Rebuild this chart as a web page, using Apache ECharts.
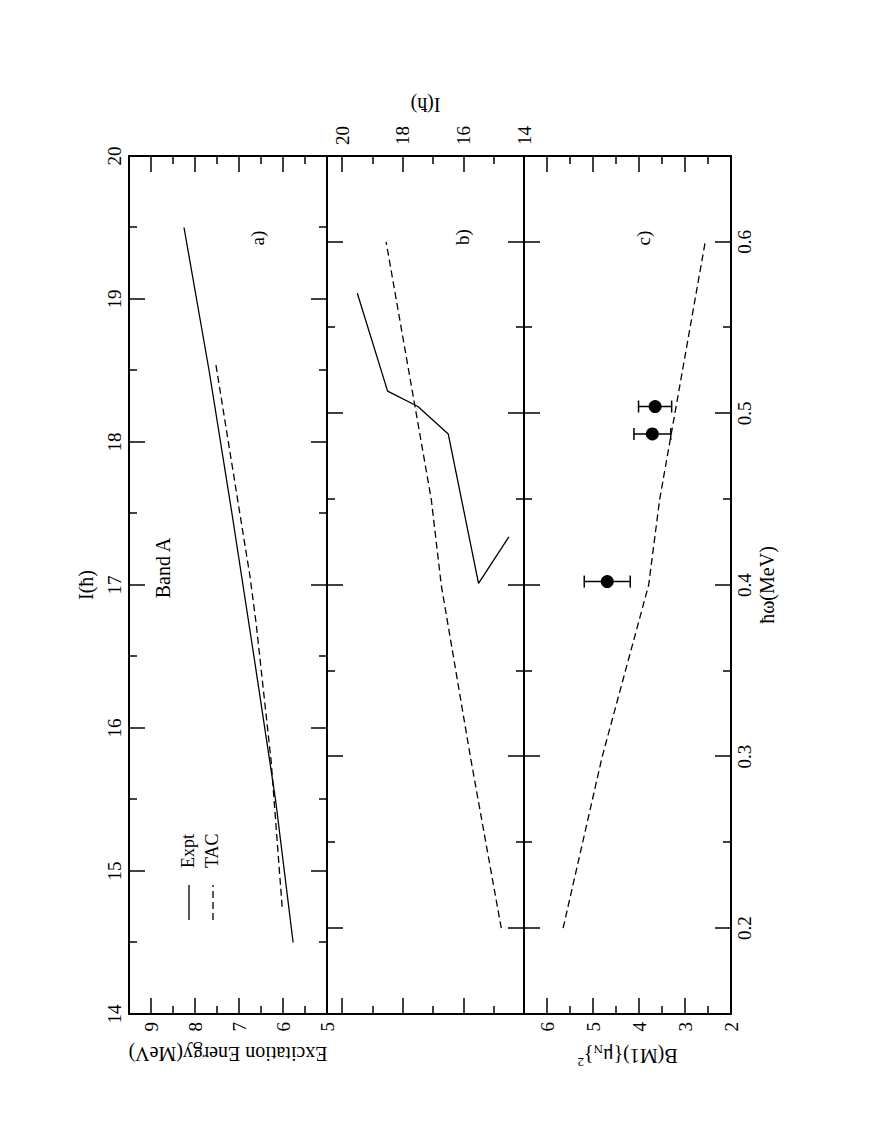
<!DOCTYPE html>
<html>
<head>
<meta charset="utf-8">
<script src="https://cdn.jsdelivr.net/npm/echarts@6.0.0/dist/echarts.min.js"></script>
<style>
html, body { margin: 0; padding: 0; width: 884px; height: 1144px; overflow: hidden; background: #fff; }
#chart { position: absolute; left: 0; top: 0; width: 1144px; height: 884px;
  transform-origin: 0 0; transform: translate(0px, 1144px) rotate(-90deg); }
</style>
</head>
<body>
<div id="chart"></div>
<script>
// ---- tick values / labels ----
const spinMajorTicks = [14, 15, 16, 17, 18, 19, 20];
const spinMinorTicks = [14.5, 15.5, 16.5, 17.5, 18.5, 19.5];
const energyMajorTicks = [5, 6, 7, 8, 9];
const energyMinorTicks = [5.5, 6.5, 7.5, 8.5];
const spinBMajorTicks = [14, 16, 18, 20];
const spinBMinorTicks = [15, 17, 19];
const omegaMajorTicks = [0.2, 0.3, 0.4, 0.5, 0.6];
const omegaMinorTicks = [0.25, 0.35, 0.45, 0.55];
const bm1MajorTicks = [2, 3, 4, 5, 6];
const bm1MinorTicks = [2.5, 3.5, 4.5, 5.5];

// ---- data ----
// a) excitation energy vs spin
const exptSpin = [14.5, 15.5, 16.5, 17.5, 18.5, 19.5];
const exptEnergy = [5.77, 6.17, 6.66, 7.16, 7.68, 8.25];
const tacSpin = [14.75, 15.77, 16.73, 17.06, 18.55];
const tacEnergy = [6.02, 6.27, 6.61, 6.75, 7.53];
// b) spin vs rotational frequency
const exptOmega = [0.428, 0.401, 0.488, 0.504, 0.513, 0.570];
const tacOmega = [0.2, 0.3, 0.4, 0.45, 0.6];
// c) B(M1) vs rotational frequency
const tacBM1 = [5.65, 4.80, 3.79, 3.55, 2.56];
const bm1Omega = [0.402, 0.488, 0.504];
const bm1Value = [4.69, 3.71, 3.65];
const bm1Error = [0.50, 0.40, 0.36];

const legendNames = ['Expt', 'TAC'];

const FONT = '"Liberation Serif", "Times New Roman", serif';
const chart = echarts.init(document.getElementById('chart'), null, { renderer: 'svg', width: 1144, height: 884 });

const xAxes = [], yAxes = [];
function addAxis(list, o) {
  const ax = {
    type: 'value', gridIndex: o.grid, position: o.pos, min: o.min, max: o.max,
    axisLine: { show: true, onZero: false, lineStyle: { color: '#000', width: 1.8 } },
    axisTick: { show: true, inside: true, length: o.len, customValues: o.ticks, lineStyle: { color: '#000', width: 1.5 } },
    minorTick: { show: false },
    splitLine: { show: false },
    axisLabel: o.labels ? { show: true, customValues: o.ticks, margin: o.margin, color: '#000', fontFamily: FONT, fontSize: 19 } : { show: false },
    silent: true
  };
  if (o.name) {
    ax.name = o.name;
    ax.nameLocation = 'middle';
    ax.nameGap = o.nameGap;
    if (o.nameRotate !== undefined) ax.nameRotate = o.nameRotate;
    ax.nameTextStyle = Object.assign({ color: '#000', fontFamily: FONT, fontSize: 20 }, o.nameStyle || {});
  }
  list.push(ax);
  return list.length - 1;
}
function addSide(list, o, major, minor) {
  const idx = addAxis(list, Object.assign({}, o, { ticks: major, len: 16 }));
  addAxis(list, Object.assign({}, o, { ticks: minor, len: 8, labels: false, name: null }));
  return idx;
}

// grid a
const xa = addSide(xAxes, { grid: 0, pos: 'top', min: 14, max: 20, labels: true, margin: 5, name: 'I(ħ)', nameGap: 33 }, spinMajorTicks, spinMinorTicks);
addSide(xAxes, { grid: 0, pos: 'bottom', min: 14, max: 20 }, spinMajorTicks, spinMinorTicks);
const ya = addSide(yAxes, { grid: 0, pos: 'left', min: 5, max: 9.5, labels: true, margin: 8, name: 'Excitation Energy(MeV)', nameGap: 30, nameRotate: 90 }, energyMajorTicks, energyMinorTicks);
addSide(yAxes, { grid: 0, pos: 'right', min: 5, max: 9.5 }, energyMajorTicks, energyMinorTicks);
// grid b
const xb = addSide(xAxes, { grid: 1, pos: 'top', min: 0.15, max: 0.65 }, omegaMajorTicks, omegaMinorTicks);
addSide(xAxes, { grid: 1, pos: 'bottom', min: 0.15, max: 0.65 }, omegaMajorTicks, omegaMinorTicks);
addSide(yAxes, { grid: 1, pos: 'left', min: 14, max: 20.5 }, spinBMajorTicks, spinBMinorTicks);
const yb = addSide(yAxes, { grid: 1, pos: 'right', min: 14, max: 20.5, labels: true, margin: 11, name: 'I(ħ)', nameGap: 33, nameRotate: 90 }, spinBMajorTicks, spinBMinorTicks);
// grid c
addSide(xAxes, { grid: 2, pos: 'top', min: 0.15, max: 0.65 }, omegaMajorTicks, omegaMinorTicks);
const xc = addSide(xAxes, { grid: 2, pos: 'bottom', min: 0.15, max: 0.65, labels: true, margin: 4, name: 'ħω(MeV)', nameGap: 26 }, omegaMajorTicks, omegaMinorTicks);
const yc = addSide(yAxes, { grid: 2, pos: 'left', min: 2, max: 6.5, labels: true, margin: 8,
  name: 'B(M1){μ{sub|N}}{sup|2}', nameGap: 29, nameRotate: 90,
  nameStyle: { lineHeight: 26, rich: {
    sub: { fontFamily: FONT, fontSize: 13, color: '#000', lineHeight: 13, verticalAlign: 'bottom' },
    sup: { fontFamily: FONT, fontSize: 13, color: '#000', lineHeight: 13, verticalAlign: 'top' } } }
}, bm1MajorTicks, bm1MinorTicks);
addSide(yAxes, { grid: 2, pos: 'right', min: 2, max: 6.5 }, bm1MajorTicks, bm1MinorTicks);

const solid = { color: '#000', width: 1.3, type: 'solid' };
const dashed = { color: '#000', width: 1.3, type: [7, 4] };
function lineSeries(name, xi, yi, xs, ys, style) {
  return { type: 'line', name: name, xAxisIndex: xi, yAxisIndex: yi, symbol: 'none', showSymbol: false,
    lineStyle: style, itemStyle: { color: '#000' }, data: xs.map((v, i) => [v, ys[i]]), animation: false, silent: true };
}

const txt = (x, y, t, size, align) => ({ type: 'text', x: x, y: y, silent: true,
  style: { text: t, font: size + 'px "Liberation Serif"', fill: '#000', align: align || 'center', verticalAlign: 'middle' } });

const option = {
  backgroundColor: '#fff',
  animation: false,
  grid: [
    { left: 130, top: 129, width: 858, height: 198, containLabel: false },
    { left: 130, top: 327, width: 858, height: 197, containLabel: false },
    { left: 130, top: 524, width: 858, height: 207, containLabel: false }
  ],
  xAxis: xAxes,
  yAxis: yAxes,
  graphic: [
    txt(906, 257, 'a)', 19),
    txt(907, 462, 'b)', 19),
    txt(906, 643, 'c)', 19),
    txt(576, 163, 'Band A', 20),
    // legend
    { type: 'line', silent: true, shape: { x1: 224, y1: 189, x2: 259, y2: 189 }, style: { stroke: '#000', lineWidth: 1.3 } },
    { type: 'line', silent: true, shape: { x1: 224, y1: 213, x2: 259, y2: 213 }, style: { stroke: '#000', lineWidth: 1.3, lineDash: [7, 4] } },
    txt(276, 188, legendNames[0], 18, 'left'),
    txt(276, 212, legendNames[1], 18, 'left')
  ],
  series: [
    lineSeries('Expt', xa, ya, exptSpin, exptEnergy, solid),
    lineSeries('TAC', xa, ya, tacSpin, tacEnergy, dashed),
    lineSeries('Expt', xb, yb, exptOmega, exptSpin, solid),
    lineSeries('TAC', xb, yb, tacOmega, tacSpin, dashed),
    lineSeries('TAC', xc, yc, tacOmega, tacBM1, dashed),
    {
      type: 'custom', name: 'Expt B(M1)', xAxisIndex: xc, yAxisIndex: yc, animation: false, silent: true,
      data: bm1Omega.map((w, i) => [w, bm1Value[i], bm1Error[i]]),
      encode: { x: 0, y: 1 },
      renderItem: function (params, api) {
        const w = api.value(0), b = api.value(1), e = api.value(2);
        const c = api.coord([w, b]);
        const lo = api.coord([w, b - e]);
        const hi = api.coord([w, b + e]);
        const cap = 6;
        const st = { stroke: '#000', lineWidth: 1.5 };
        return { type: 'group', children: [
          { type: 'line', shape: { x1: lo[0], y1: lo[1], x2: hi[0], y2: hi[1] }, style: st },
          { type: 'line', shape: { x1: lo[0] - cap, y1: lo[1], x2: lo[0] + cap, y2: lo[1] }, style: st },
          { type: 'line', shape: { x1: hi[0] - cap, y1: hi[1], x2: hi[0] + cap, y2: hi[1] }, style: st },
          { type: 'circle', shape: { cx: c[0], cy: c[1], r: 6.5 }, style: { fill: '#000' } }
        ] };
      }
    }
  ]
};
chart.setOption(option);
</script>
</body>
</html>
